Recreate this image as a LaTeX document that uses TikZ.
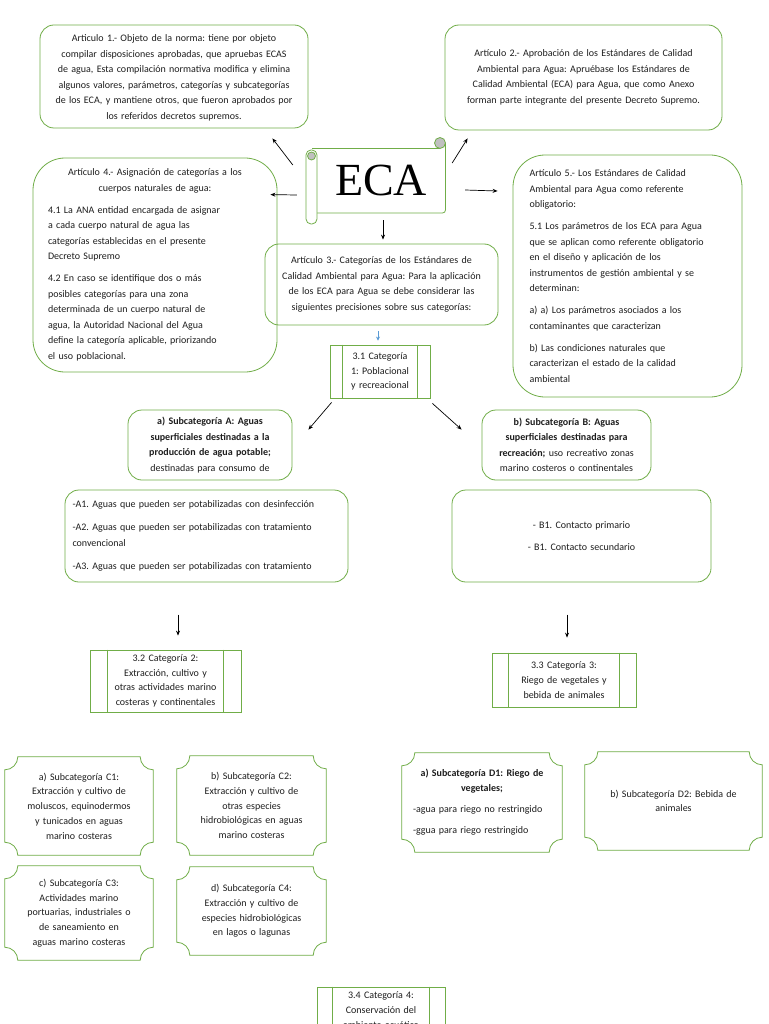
\documentclass[tikz,border=0pt]{standalone}
\usepackage{fontspec}
\setmainfont{Carlito}
\newfontfamily\ecafont{Liberation Serif}
\usetikzlibrary{calc,arrows.meta}
\definecolor{grn}{HTML}{70AD47}
\definecolor{txt}{HTML}{1E1E1E}
\definecolor{blu}{HTML}{5B9BD5}
\definecolor{rollgray}{HTML}{A5A5A5}
\frenchspacing
\tikzset{
  base/.style={draw=grn, line width=0.8pt, text=txt, inner sep=0pt,
    font=\fontsize{10}{15.5}\selectfont\frenchspacing},
  rbox/.style={base, rounded corners=#1, align=center},
  rbox/.default=14pt,
  lbox/.style={base, rounded corners=#1},
  procbox/.style={base, align=center, font=\fontsize{10}{14.7}\selectfont\frenchspacing},
  plq/.style={text=txt, inner sep=0pt, align=center, font=\fontsize{10}{14.7}\selectfont\frenchspacing},
  grline/.style={draw=grn, line width=0.8pt},
  arr/.style={-{Stealth[length=5pt,width=4pt]}, line width=0.7pt, black},
}
\newcommand\plaque[2]{%
  \draw[grline] ([xshift=#2]#1.north west) -- ([xshift=-#2]#1.north east)
    arc[start angle=180,end angle=270,radius=#2]
    -- ([yshift=#2]#1.south east) arc[start angle=90,end angle=180,radius=#2]
    -- ([xshift=#2]#1.south west) arc[start angle=0,end angle=90,radius=#2]
    -- ([yshift=-#2]#1.north west) arc[start angle=270,end angle=360,radius=#2] -- cycle;}
\newcommand\procl[2]{%
  \draw[grline] ([xshift=#2]#1.north west) -- ([xshift=#2]#1.south west)
    ([xshift=-#2]#1.north east) -- ([xshift=-#2]#1.south east);}
\begin{document}
\begin{tikzpicture}[x=1pt,y=-1pt]
\useasboundingbox (0,0) rectangle (768,1024);
\clip (0,0) rectangle (768,1024);
\fill[white] (0,0) rectangle (768,1024);

% Article boxes
\node[rbox, minimum width=268pt, minimum height=103pt, text width=262pt] (a1) at (174,76.5)
 {\vphantom{A}\\[-12pt]Articulo 1.- Objeto de la norma: tiene por objeto\\
  compilar disposiciones aprobadas, que apruebas ECAS\\
  de agua, Esta compilación normativa modifica y elimina\\
  algunos valores, parámetros, categorías y subcategorías\\
  de los ECA, y mantiene otros, que fueron aprobados por\\
  los referidos decretos supremos.};

\node[rbox, minimum width=277pt, minimum height=105pt, text width=270pt] (a2) at (583.5,77.5)
 {Artículo 2.- Aprobación de los Estándares de Calidad\\
  Ambiental para Agua: Apruébase los Estándares de\\
  Calidad Ambiental (ECA) para Agua, que como Anexo\\
  forman parte integrante del presente Decreto Supremo.};

% ECA scroll
\node[inner sep=0pt, minimum width=128pt, minimum height=65pt, font=\ecafont\fontsize{46}{46}\selectfont] (eca) at (381,180.5) {ECA};
\draw[grline, rounded corners=3pt] (317,213) -- (445.5,213) -- (445.5,143);
\draw[grline] (312,148) -- (440,148);
\draw[grline, fill=rollgray!70] (440,143) circle (5.5pt);
\draw[grline, fill=white, rounded corners=5pt] (306,150) rectangle (317,224);
\draw[grline, fill=rollgray!70] (311.5,156) circle (4pt);

\node[lbox=32pt, minimum width=244pt, minimum height=214pt, text width=214pt] (a4) at (155,265)
 {\parindent0pt\parskip6.5pt
  {\centering Artículo 4.- Asignación de categorías a los\\ cuerpos naturales de agua:\par}
  \raggedright
  4.1 La ANA entidad encargada de asignar\\ a cada cuerpo natural de agua las\\ categorías establecidas en el presente\\ Decreto Supremo\par
  4.2 En caso se identifique dos o más\\ posibles categorías para una zona\\ determinada de un cuerpo natural de\\ agua, la Autoridad Nacional del Agua\\ define la categoría aplicable, priorizando\\ el uso poblacional.\par};

\node[lbox=32pt, minimum width=229pt, minimum height=242pt, text width=196pt] (a5) at (627.5,276)
 {\parindent0pt\parskip6.5pt\raggedright
  Artículo 5.- Los Estándares de Calidad\\ Ambiental para Agua como referente\\ obligatorio:\par
  5.1 Los parámetros de los ECA para Agua\\ que se aplican como referente obligatorio\\ en el diseño y aplicación de los\\ instrumentos de gestión ambiental y se\\ determinan:\par
  a) a) Los parámetros asociados a los\\ contaminantes que caracterizan\par
  b) Las condiciones naturales que\\ caracterizan el estado de la calidad\\ ambiental\par};

\node[rbox, minimum width=233pt, minimum height=81pt, text width=228pt] (a3) at (381.5,284.5)
 {Artículo 3.- Categorías de los Estándares de\\
  Calidad Ambiental para Agua: Para la aplicación\\
  de los ECA para Agua se debe considerar las\\
  siguientes precisiones sobre sus categorías:};

\node[procbox, minimum width=100pt, minimum height=53pt, text width=90pt] (c31) at (380,371.5)
 {3.1 Categoría\\ 1: Poblacional\\ y recreacional};
\procl{c31}{13pt}

% Subcategories A / B
\node[rbox, minimum width=164pt, minimum height=70pt, text width=160pt] (subA) at (210,445)
 {\textbf{a) Subcategoría A: Aguas}\\ \textbf{superficiales destinadas a la}\\ \textbf{producción de agua potable;}\\ destinadas para consumo de};
\node[rbox, minimum width=169pt, minimum height=70pt, text width=165pt] (subB) at (566.5,445)
 {\textbf{b) Subcategoría B: Aguas}\\ \textbf{superficiales destinadas para}\\ \textbf{recreación;} uso recreativo zonas\\ marino costeros o continentales};

\node[lbox=14pt, minimum width=283pt, minimum height=92pt, text width=268pt] (listA) at (206.5,536)
 {\parindent0pt\parskip8pt\raggedright
  -A1. Aguas que pueden ser potabilizadas con desinfección\par
  -A2. Aguas que pueden ser potabilizadas con tratamiento\\ convencional\par
  -A3. Aguas que pueden ser potabilizadas con tratamiento\par};
\node[rbox, minimum width=259pt, minimum height=92pt, text width=250pt] (listB) at (581.5,536)
 {- B1. Contacto primario\\[6pt] - B1. Contacto secundario};

% Categories 2 and 3
\node[procbox, minimum width=151pt, minimum height=62pt, text width=140pt] (c32) at (165.5,681)
 {3.2 Categoría 2:\\ Extracción, cultivo y\\ otras actividades marino\\ costeras y continentales};
\procl{c32}{18pt}
\node[procbox, minimum width=144pt, minimum height=54pt, text width=135pt] (c33) at (564,680)
 {3.3 Categoría 3:\\ Riego de vegetales y\\ bebida de animales};
\procl{c33}{17pt}

% Plaques C
\node[plq, minimum width=148pt, minimum height=98pt, text width=140pt] (C1) at (79,806)
 {a) Subcategoría C1:\\ Extracción y cultivo de\\ moluscos, equinodermos\\ y tunicados en aguas\\ marino costeras};
\plaque{C1}{13pt}
\node[plq, minimum width=149pt, minimum height=99pt, text width=140pt] (C2) at (251.5,805.5)
 {b) Subcategoría C2:\\ Extracción y cultivo de\\ otras especies\\ hidrobiológicas en aguas\\ marino costeras};
\plaque{C2}{13pt}
\node[plq, minimum width=148pt, minimum height=94pt, text width=140pt] (C3) at (79,913)
 {c) Subcategoría C3:\\ Actividades marino\\ portuarias, industriales o\\ de saneamiento en\\ aguas marino costeras};
\plaque{C3}{13pt}
\node[plq, minimum width=149pt, minimum height=88pt, text width=140pt] (C4) at (251.5,911)
 {d) Subcategoría C4:\\ Extracción y cultivo de\\ especies hidrobiológicas\\ en lagos o lagunas};
\plaque{C4}{13pt}

% Plaques D
\node[plq, minimum width=160pt, minimum height=99pt, text width=138pt, align=left] (D1) at (482,802.5)
 {\parindent0pt\parskip6.5pt
  {\centering\textbf{a) Subcategoría D1: Riego de}\\ \textbf{vegetales;}\par}
  \raggedright
  -agua para riego no restringido\par
  -ggua para riego restringido\par};
\plaque{D1}{13pt}
\node[plq, minimum width=177pt, minimum height=98pt, text width=160pt] (D2) at (673.5,801)
 {b) Subcategoría D2: Bebida de\\ animales};
\plaque{D2}{13pt}

% Category 4 (runs off the page bottom, as in the reference)
\node[procbox, minimum width=128pt, minimum height=46pt, text width=120pt] (c34) at (381,1010)
 {3.4 Categoría 4:\\ Conservación del\\ ambiente acuático};
\procl{c34}{16pt}

% Connectors
\draw[arr] ($(eca.west)+(-24,-15.5)$) -- ($(a1.south east)+(-36,10)$);
\draw[arr] ($(eca.east)+(7,-17.5)$) -- ($(a2.south west)+(23,8)$);
\draw[arr] ($(eca.west)+(-20,14.5)$) -- ($(a4.north east)+(-7,37)$);
\draw[arr] ($(eca.east)+(20,9.5)$) -- ($(a5.west)+(-15,-85)$);
\draw[arr] ($(eca.south)+(2,7)$) -- ($(a3.north)+(1.5,-4)$);
\draw[-{Stealth[length=4pt,width=4pt]}, blu, line width=0.7pt] ($(a3.south)+(-3.5,6)$) -- ($(c31.north)+(-2,-4)$);
\draw[arr] ($(c31.south west)+(2,4)$) -- ($(subA.north east)+(16,20)$);
\draw[arr] ($(c31.south east)+(2,5)$) -- ($(subB.north west)+(-20,20)$);
\draw[arr] ($(c32.north)+(12.5,-35)$) -- ($(c32.north)+(12.5,-14)$);
\draw[arr] ($(c33.north)+(3,-38)$) -- ($(c33.north)+(3,-15)$);
\end{tikzpicture}
\end{document}
